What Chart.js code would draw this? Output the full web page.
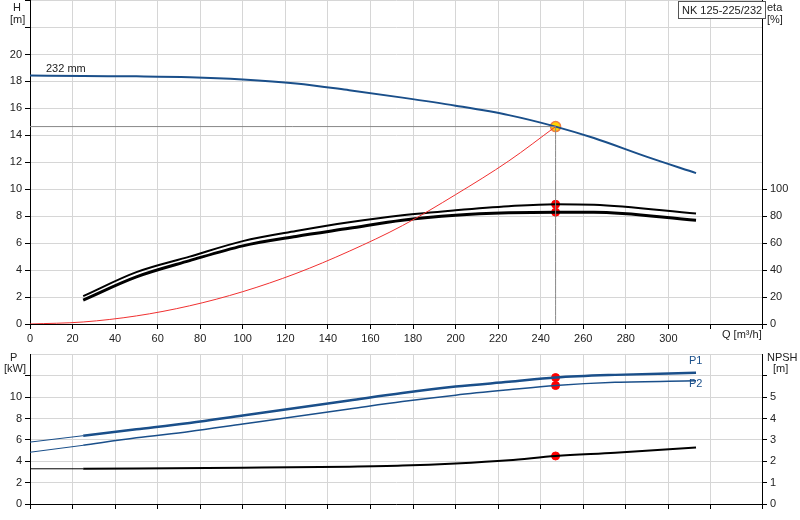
<!DOCTYPE html>
<html><head><meta charset="utf-8">
<script src="https://cdn.jsdelivr.net/npm/chart.js@4"></script>
<style>
body{margin:0;background:#fff;font-family:"Liberation Sans",Arial,sans-serif;overflow:hidden;}
#w{position:relative;width:800px;height:520px;overflow:hidden;}
canvas{position:absolute;left:0;}
.t{position:absolute;font-size:11px;color:#222;white-space:nowrap;line-height:12px;}
</style></head><body><div id="w">
<canvas id="c1" width="800" height="354" style="top:-9px"></canvas>
<canvas id="c2" width="800" height="175" style="top:345px"></canvas>
<div class="t" style="left:13px;top:1px">H</div><div class="t" style="left:10px;top:13px">[m]</div>
<div class="t" style="left:767px;top:1px">eta</div><div class="t" style="left:767px;top:13px">[%]</div>
<div class="t" style="left:678px;top:1px;border:1px solid #555;padding:2px 3px;background:#fff">NK 125-225/232</div>
<div class="t" style="left:46px;top:62px">232 mm</div>
<div class="t" style="left:722px;top:328px">Q [m³/h]</div>
<div class="t" style="left:10px;top:351px">P</div><div class="t" style="left:4px;top:362px">[kW]</div>
<div class="t" style="left:767px;top:351px">NPSH</div><div class="t" style="left:773px;top:362px">[m]</div>
<div class="t" style="left:689px;top:354px;color:#1a4f8a">P1</div>
<div class="t" style="left:689px;top:377px;color:#1a4f8a">P2</div>
</div>
<script>
const qH=[0,25,50,75,100,125,150,175,200,225,247,265,290,313];
const H=[18.45,18.4,18.38,18.32,18.15,17.85,17.35,16.8,16.2,15.5,14.65,13.8,12.4,11.2];
const qEta=[25,50,75,100,125,150,175,200,225,247,265,313];
const eta1=[20.7,38.5,50,61.5,69,75.5,80.7,84.4,87.4,88.9,88.5,82];
const eta2=[17.8,35,47,58,65,71,77,80.7,82.5,83,83,77];
const qSys=[0,25,50,75,100,125,150,175,200,225,247];
const Hsys=[0,0.15,0.6,1.35,2.4,3.75,5.4,7.3,9.6,12.1,14.65];
const qP=[25,50,75,100,125,150,175,200,225,247,275,313];
const P1=[6.4,7.0,7.6,8.3,9.0,9.7,10.4,11.0,11.45,11.85,12.1,12.3];
const P2=[5.5,6.2,6.8,7.5,8.2,8.9,9.6,10.2,10.7,11.1,11.4,11.55];
const P1start=[5.8,6.4], P2start=[4.85,5.5];
const qN=[25,100,150,175,200,225,247,275,313];
const NPSH=[1.65,1.7,1.75,1.8,1.9,2.05,2.25,2.4,2.65];
const NPSHstart=[1.65,1.65];
const qOp=247, hOp=14.65;
const eta1Op=88.9, eta2Op=83, P1Op=11.85, P2Op=11.1, NPSHOp=2.25;

const pts=(xs,ys)=>xs.map((x,i)=>({x,y:ys[i]}));
const BLUE='#1a4f8a', GRID='#d6d6d6', FONT={family:'"Liberation Sans",Arial,sans-serif',size:11};
Chart.defaults.animation=false; Chart.defaults.responsive=false;
Chart.defaults.color='#222';
const xScale=(showLabels)=>({type:'linear',min:0,max:344,
  ticks:{stepSize:20,display:showLabels,font:FONT,color:'#222',maxRotation:0,autoSkip:false,
    callback:v=>v>300?'':v},
  grid:{color:GRID,tickColor:'#000',tickLength:5},border:{color:'#000',width:1},
  afterFit:s=>{s.height=showLabels?21:16;}});
const line=(data,color,w,extra)=>Object.assign({data,showLine:true,borderColor:color,borderWidth:w,pointRadius:0,fill:false,tension:0.3,cubicInterpolationMode:'monotone'},extra||{});
const dot=(data,axis)=>({data,yAxisID:axis,showLine:false,pointRadius:4,pointBackgroundColor:'#f00',pointBorderColor:'#f00'});

new Chart(document.getElementById('c1'),{type:'scatter',
 data:{datasets:[
  line([{x:0,y:hOp},{x:qOp,y:hOp}],'#888',1,{tension:0,yAxisID:'y'}),
  line([{x:qOp,y:0},{x:qOp,y:hOp}],'#888',1,{tension:0,yAxisID:'y'}),
  line(pts(qSys,Hsys),'#f03030',1,{yAxisID:'y'}),
  line(pts(qH,H),BLUE,2,{yAxisID:'y'}),
  line(pts(qEta,eta1),'#000',2,{yAxisID:'y2'}),
  line(pts(qEta,eta2),'#000',3,{yAxisID:'y2'}),
  dot([{x:qOp,y:eta1Op},{x:qOp,y:eta2Op}],'y2'),
  {data:[{x:qOp,y:hOp}],yAxisID:'y',pointRadius:5,pointBackgroundColor:'#ffd400',pointBorderColor:'#f08040',pointBorderWidth:1.5}
 ]},
 options:{layout:{padding:0},plugins:{legend:{display:false},tooltip:{enabled:false}},
  scales:{x:xScale(true),
   y:{min:0,max:24,position:'left',ticks:{stepSize:2,font:FONT,color:'#222',callback:v=>v>20?'':v},
      grid:{color:GRID,tickColor:'#000',tickLength:5},border:{color:'#000'},afterFit:s=>{s.width=30;}},
   y2:{min:0,max:240,position:'right',ticks:{stepSize:20,font:FONT,color:'#222',callback:v=>v>100?'':v},
      grid:{drawOnChartArea:false,tickColor:c=>c.tick&&c.tick.value>100?'rgba(0,0,0,0)':'#000',tickLength:5},border:{color:'#000'},afterFit:s=>{s.width=38;}}
  }}});

new Chart(document.getElementById('c2'),{type:'scatter',
 data:{datasets:[
  line(pts([0,25],P1start),BLUE,1,{yAxisID:'y',tension:0}),
  line(pts([0,25],P2start),BLUE,1,{yAxisID:'y',tension:0}),
  line(pts([0,25],NPSHstart),'#000',1,{yAxisID:'y2',tension:0}),
  line(pts(qP,P1),BLUE,2.5,{yAxisID:'y'}),
  line(pts(qP,P2),BLUE,1.5,{yAxisID:'y'}),
  line(pts(qN,NPSH),'#000',2,{yAxisID:'y2'}),
  dot([{x:qOp,y:P1Op},{x:qOp,y:P2Op}],'y'),
  dot([{x:qOp,y:NPSHOp}],'y2')
 ]},
 options:{layout:{padding:{top:1}},plugins:{legend:{display:false},tooltip:{enabled:false}},
  scales:{x:xScale(false),
   y:{min:0,max:14,position:'left',ticks:{stepSize:2,font:FONT,color:'#222',callback:v=>v>10?'':v},
      grid:{color:GRID,tickColor:c=>c.tick&&c.tick.value>12?'rgba(0,0,0,0)':'#000',tickLength:5},border:{color:'#000'},afterFit:s=>{s.width=30;}},
   y2:{min:0,max:7,position:'right',ticks:{stepSize:1,font:FONT,color:'#222',callback:v=>v>5?'':v},
      grid:{drawOnChartArea:false,tickColor:c=>c.tick&&c.tick.value>6?'rgba(0,0,0,0)':'#000',tickLength:5},border:{color:'#000'},afterFit:s=>{s.width=38;}}
  }}});
</script></body></html>
